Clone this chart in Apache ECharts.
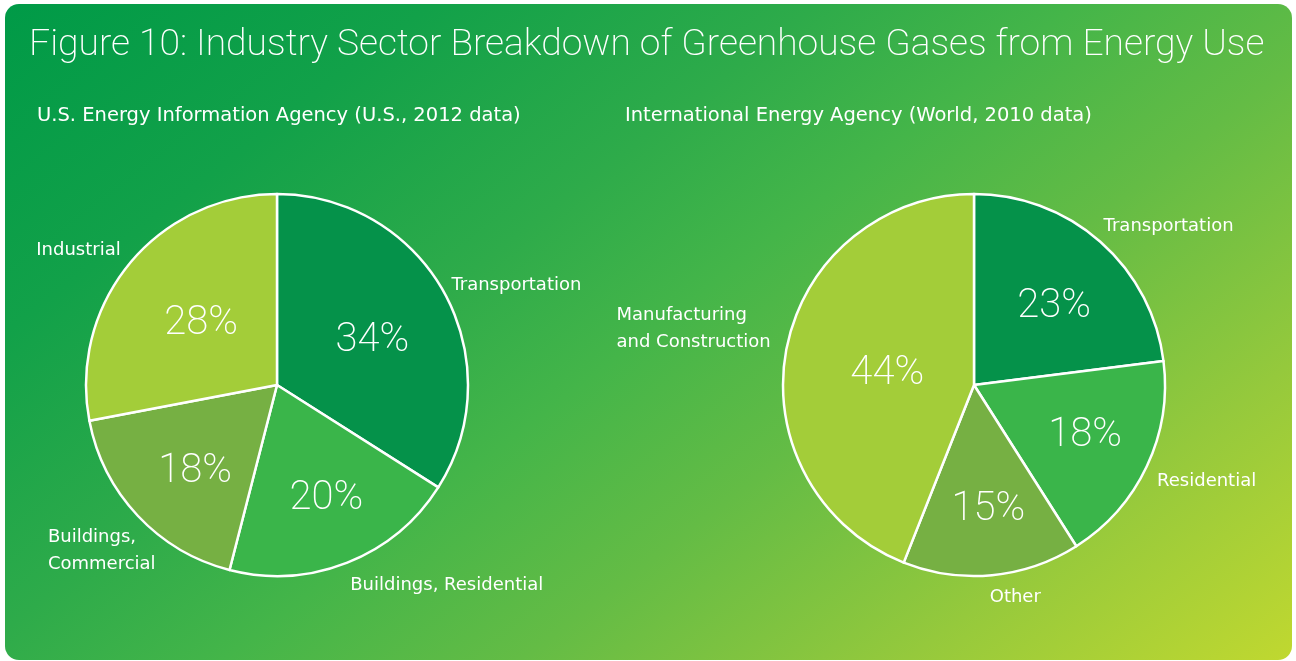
<!DOCTYPE html>
<html>
<head>
<meta charset="utf-8">
<script src="https://cdn.jsdelivr.net/npm/echarts@6/dist/echarts.min.js"></script>
<style>
  html, body { margin: 0; padding: 0; background: #fff; }
  #chart { width: 1296px; height: 661px; }
</style>
</head>
<body>
<div id="chart"></div>
<script>
// US (EIA, 2012)
const usNames = ['Transportation', 'Buildings, Residential', 'Buildings,\nCommercial', 'Industrial']
const usValues = [34, 20, 18, 28]
// World (IEA, 2010)
const worldNames = ['Transportation', 'Residential', 'Other', 'Manufacturing\nand Construction']
const worldValues = [23, 18, 15, 44]

const sliceColors = ['#05924a', '#3ab54a', '#76b043', '#a3cd39']
const thinFont = 'Roboto, "Noto Sans", sans-serif'
const labelFont = '"DejaVu Sans", sans-serif'

function toData(names, values) {
  return names.map((n, i) => ({ name: n, value: values[i], itemStyle: { color: sliceColors[i] } }))
}

// nudges: [dx, dy] for the percent labels and the name labels, plus optional align
function pieSeries(center, names, values, pctNudge, nameNudge) {
  return [
    {
      type: 'pie',
      center: center,
      radius: 191,
      startAngle: 90,
      clockwise: true,
      silent: true,
      itemStyle: { borderColor: '#fff', borderWidth: 2.5 },
      label: {
        position: 'inside',
        formatter: '{c}%',
        color: '#fff',
        fontSize: 40,
        fontWeight: 200,
        fontFamily: thinFont
      },
      labelLine: { show: false },
      labelLayout: p => ({ dx: pctNudge[p.dataIndex][0], dy: pctNudge[p.dataIndex][1] }),
      data: toData(names, values)
    },
    {
      type: 'pie',
      center: center,
      radius: 191,
      startAngle: 90,
      clockwise: true,
      silent: true,
      itemStyle: { color: 'transparent', borderWidth: 0 },
      label: {
        position: 'outside',
        formatter: '{b}',
        color: '#fff',
        fontSize: 18,
        lineHeight: 27,
        fontFamily: labelFont
      },
      labelLine: { show: false, length: 8, length2: 4 },
      labelLayout: p => {
        const n = nameNudge[p.dataIndex]
        const o = { dx: n[0], dy: n[1] }
        if (n[2]) o.align = n[2]
        return o
      },
      data: names.map((n, i) => ({ name: n, value: values[i] }))
    }
  ]
}

const chart = echarts.init(document.getElementById('chart'))
chart.setOption({
  animation: false,
  graphic: [
    {
      type: 'rect',
      z: -10,
      shape: { x: 5, y: 4, width: 1287, height: 656, r: 14 },
      style: {
        fill: new echarts.graphic.LinearGradient(5, 4, 800, 1038, [
          { offset: 0, color: '#009a47' },
          { offset: 0.2, color: '#12a149' },
          { offset: 0.38, color: '#2eab4a' },
          { offset: 0.5, color: '#44b549' },
          { offset: 0.64, color: '#64bc45' },
          { offset: 0.82, color: '#95c93c' },
          { offset: 1, color: '#c0d830' }
        ], true)
      }
    }
  ],
  title: [
    {
      text: 'Figure 10: Industry Sector Breakdown of Greenhouse Gases from Energy Use',
      left: 29, top: 27, padding: 0,
      textStyle: { color: '#fff', fontSize: 37.2, fontWeight: 200, fontFamily: thinFont }
    },
    {
      text: 'U.S. Energy Information Agency (U.S., 2012 data)',
      left: 37, top: 106, padding: 0,
      textStyle: { color: '#fff', fontSize: 19.5, fontWeight: 'normal', fontFamily: labelFont }
    },
    {
      text: 'International Energy Agency (World, 2010 data)',
      left: 625, top: 106, padding: 0,
      textStyle: { color: '#fff', fontSize: 19.5, fontWeight: 'normal', fontFamily: labelFont }
    }
  ],
  series: [
    ...pieSeries([277, 385], usNames, usValues,
      [[9, 3], [13, 22], [-10, 20], [0, 2]],
      [[-9, -4], [-9, 15], [-75, 30, 'left'], [6, -8]]),
    ...pieSeries([974, 385], worldNames, worldValues,
      [[15, -4], [22, 9], [5, 27], [10, 7]],
      [[-11, -9], [-6, 12], [-12, 14], [-153, -19, 'left']])
  ]
})
</script>
</body>
</html>
